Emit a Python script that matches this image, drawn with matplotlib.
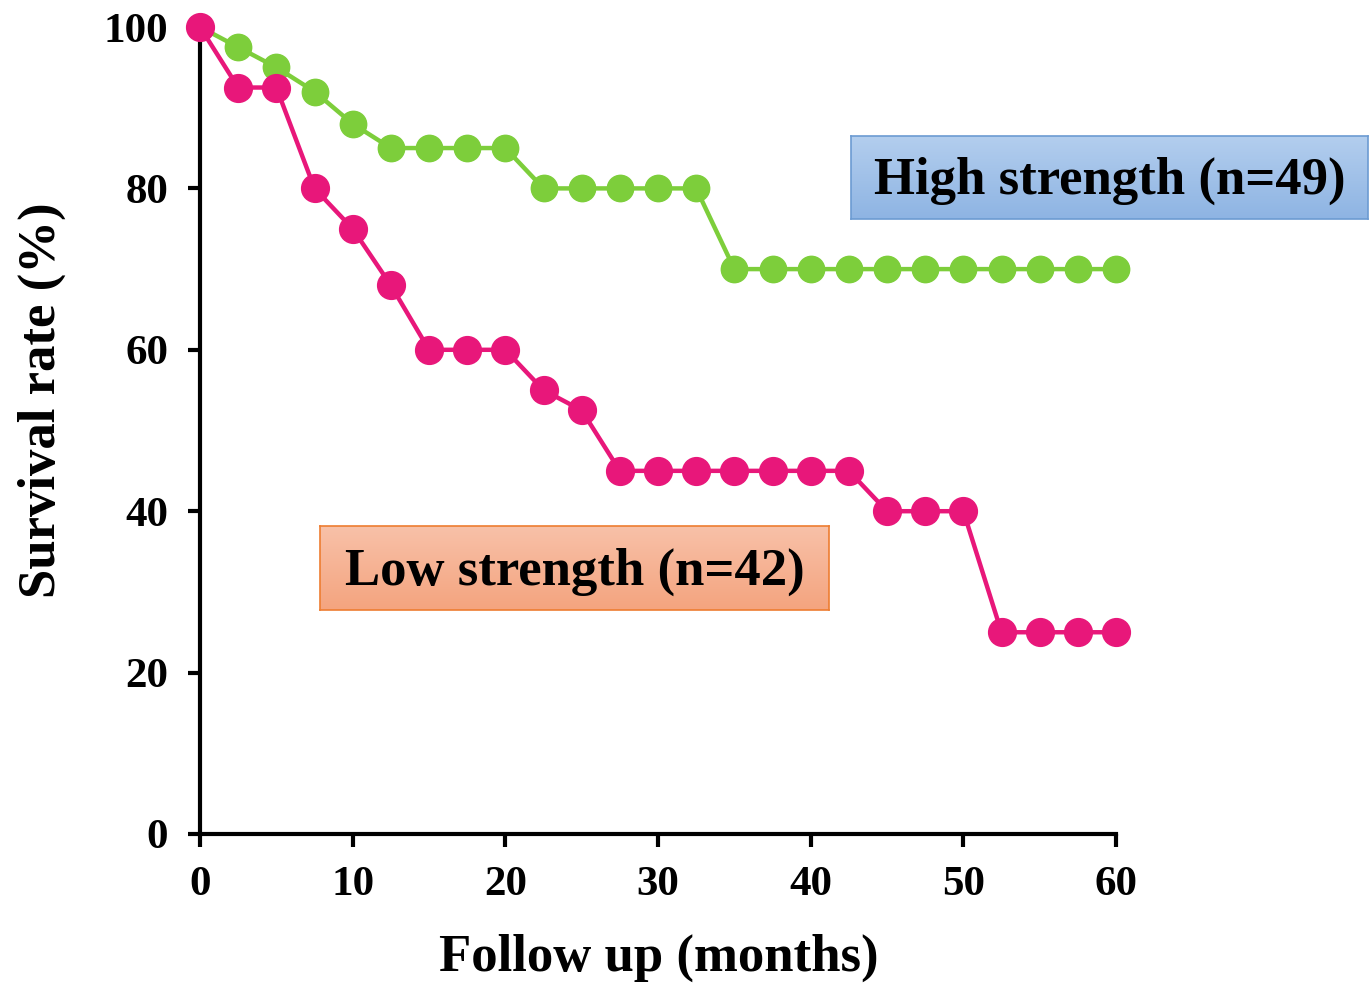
import numpy as np
import matplotlib
matplotlib.use("Agg")
import matplotlib.pyplot as plt
from matplotlib.colors import LinearSegmentedColormap

months = [0, 2.5, 5, 7.5, 10, 12.5, 15, 17.5, 20, 22.5, 25, 27.5, 30, 32.5, 35,
          37.5, 40, 42.5, 45, 47.5, 50, 52.5, 55, 57.5, 60]
high_strength = [100, 97.5, 95, 92, 88, 85, 85, 85, 85, 80, 80, 80, 80, 80, 70,
                 70, 70, 70, 70, 70, 70, 70, 70, 70, 70]
low_strength = [100, 92.5, 92.5, 80, 75, 68, 60, 60, 60, 55, 52.5, 45, 45, 45, 45,
                45, 45, 45, 40, 40, 40, 25, 25, 25, 25]
x_ticks = [0, 10, 20, 30, 40, 50, 60]
y_ticks = [0, 20, 40, 60, 80, 100]
high_label = "High strength (n=49)"
low_label = "Low strength (n=42)"

plt.rcParams['font.family'] = ['Liberation Serif', 'DejaVu Serif']
plt.rcParams['font.weight'] = 'bold'

W, H = 1369, 985
fig = plt.figure(figsize=(W / 100, H / 100), dpi=100)
ax = fig.add_axes([200 / W, (H - 834) / H, (1116 - 200) / W, (834 - 27) / H])

ax.plot(months, high_strength, color='#7DCE3B', lw=3.2, marker='o', ms=19,
        clip_on=False, zorder=3)
ax.plot(months, low_strength, color='#E8177A', lw=3.2, marker='o', ms=20,
        clip_on=False, zorder=4)

ax.set_xlim(0, 60)
ax.set_ylim(0, 100)
ax.set_xticks(x_ticks)
ax.set_yticks(y_ticks)
for s in ['top', 'right']:
    ax.spines[s].set_visible(False)
for s in ['left', 'bottom']:
    ax.spines[s].set_linewidth(3)
ax.tick_params(width=3, length=9, direction='out', labelsize=31)
ax.tick_params(axis='y', pad=14)
ax.tick_params(axis='x', pad=14)
for lab in ax.get_xticklabels() + ax.get_yticklabels():
    lab.set_fontweight('bold')

fig.text(659 / W, 1 - 958 / H, "Follow up (months)", fontsize=38,
         fontweight='bold', ha='center', va='center')
fig.text(42 / W, 1 - 400 / H, "Survival rate (%)", fontsize=38,
         fontweight='bold', ha='center', va='center', rotation=90)


def gradient_box(x0, y0, x1, y1, c_top, c_bot, edge, text):
    bax = fig.add_axes([x0 / W, (H - y1) / H, (x1 - x0) / W, (y1 - y0) / H])
    cmap = LinearSegmentedColormap.from_list('g', [c_top, c_bot])
    grad = np.linspace(0, 1, 100).reshape(-1, 1)
    bax.imshow(grad, aspect='auto', cmap=cmap, extent=[0, 1, 0, 1], origin='upper')
    bax.set_xticks([])
    bax.set_yticks([])
    for sp in bax.spines.values():
        sp.set_color(edge)
        sp.set_linewidth(1.2)
    bax.text(0.5, 0.46, text, ha='center', va='center', fontsize=38,
             fontweight='bold', transform=bax.transAxes)


gradient_box(851, 136, 1368, 219, '#B3CEEE', '#8EB4E3', '#6C9BD2', high_label)
gradient_box(320, 526, 829, 610, '#F8C1A8', '#F4A47F', '#ED7D31', low_label)

fig.savefig("out.png", dpi=100)
